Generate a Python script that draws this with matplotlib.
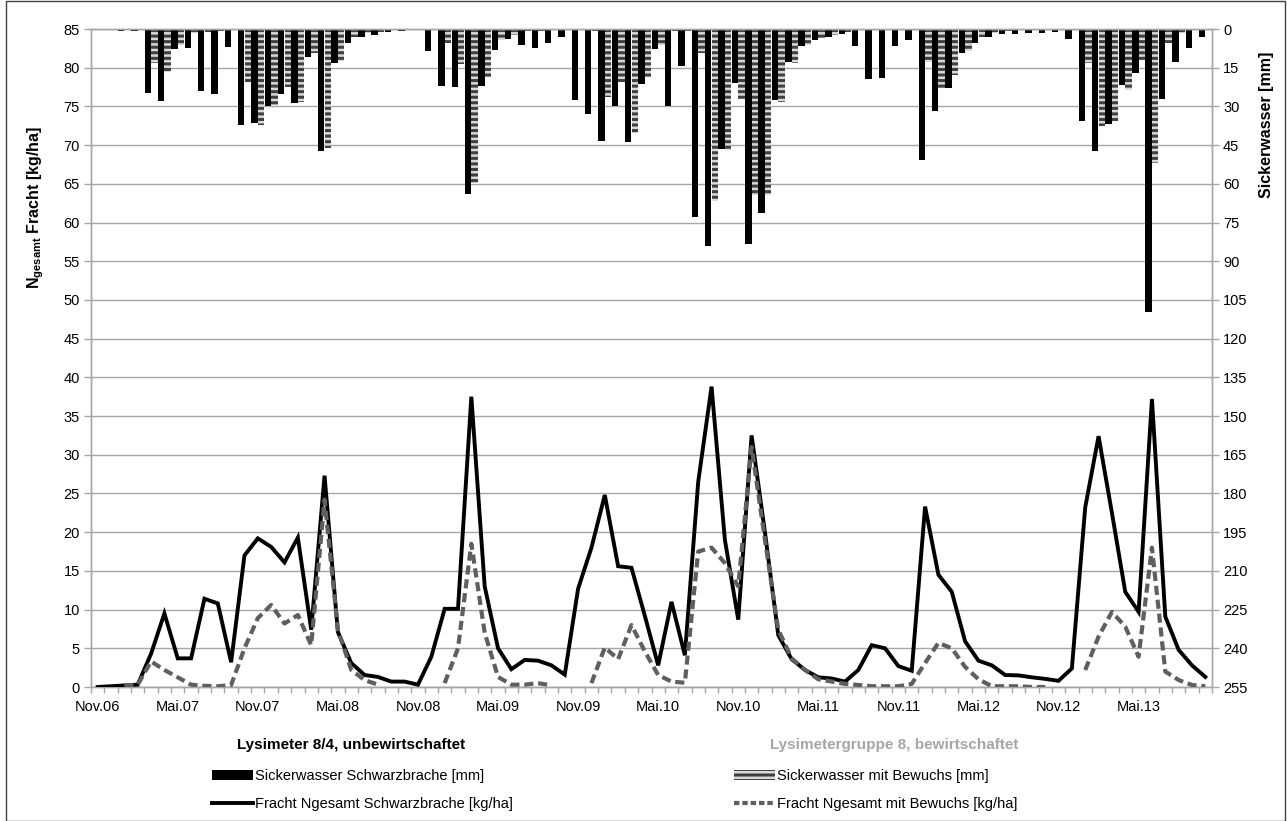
import numpy as np
import matplotlib
matplotlib.use('Agg')
import matplotlib.pyplot as plt
from matplotlib.patches import Patch, Rectangle
from matplotlib.lines import Line2D

plt.rcParams['font.family'] = ['Liberation Sans', 'DejaVu Sans']
plt.rcParams['mathtext.fontset'] = 'custom'
plt.rcParams['mathtext.rm'] = 'Liberation Sans'
plt.rcParams['mathtext.bf'] = 'Liberation Sans:bold'
plt.rcParams['hatch.linewidth'] = 2.2

nan = np.nan

# Sickerwasser [mm] (right axis, bars hanging from top)
sw_schwarzbrache = [0.2, 0.4, 0.6, 0.8, 24.9, 27.9, 7.9, 7.5, 24.0, 25.3,
                    7.1, 37.2, 36.6, 29.7, 25.2, 28.8, 10.7, 47.2, 13.0, 5.3,
                    3.0, 2.3, 1.0, 0.8, 0.4, 8.4, 22.1, 22.6, 64.0, 22.0,
                    8.1, 4.0, 6.2, 7.5, 5.3, 3.2, 27.5, 33.1, 43.4, 29.8,
                    43.9, 21.3, 7.9, 29.7, 14.2, 72.9, 84.0, 46.6, 20.8, 83.4,
                    71.4, 27.5, 12.7, 6.6, 4.3, 3.0, 2.0, 6.6, 19.3, 19.1,
                    6.6, 4.3, 50.8, 31.7, 23.0, 9.4, 5.6, 3.2, 2.0, 2.0,
                    1.7, 1.4, 1.2, 3.7, 35.5, 47.3, 36.8, 21.7, 16.9, 109.5,
                    27.3, 12.7, 7.5, 3.2]
sw_bewuchs = [0.0, 0.0, 0.0, 0.3, 13.0, 16.5, 6.2, 1.7, 1.0, 0.8,
              0.5, 20.4, 37.2, 29.5, 22.4, 28.2, 9.4, 46.3, 12.3, 3.0,
              1.7, 1.0, 0.5, 0.3, 0.2, 0.0, 5.6, 13.6, 59.8, 18.5,
              4.3, 2.3, 0.8, 0.8, 0.5, 0.3, 0.0, 0.8, 26.2, 20.4,
              40.4, 18.5, 6.2, 0.8, 0.8, 9.4, 66.7, 46.9, 27.3, 64.5,
              64.5, 28.3, 13.2, 6.2, 3.6, 2.3, 1.0, 0.3, 0.5, 0.3,
              0.3, 0.3, 12.7, 23.0, 17.8, 8.4, 3.2, 1.5, 0.7, 0.5,
              0.3, 0.3, 0.2, 0.2, 13.3, 37.6, 35.5, 23.6, 12.0, 52.1,
              5.6, 1.7, 0.5, 0.5]

# N gesamt Fracht [kg/ha] (left axis, lines)
fracht_schwarzbrache = [0.0, 0.1, 0.2, 0.3, 4.3, 9.5, 3.7, 3.7, 11.4, 10.8,
                        3.2, 17.0, 19.2, 18.1, 16.1, 19.3, 7.4, 27.3, 7.1, 3.1,
                        1.55, 1.3, 0.7, 0.7, 0.3, 3.9, 10.1, 10.1, 37.5, 13.0,
                        5.0, 2.3, 3.5, 3.4, 2.8, 1.6, 12.7, 18.0, 24.8, 15.6,
                        15.4, 9.2, 2.8, 11.0, 4.1, 26.5, 38.8, 19.0, 8.7, 32.5,
                        20.0, 6.7, 3.6, 2.2, 1.25, 1.1, 0.7, 2.2, 5.4, 5.0,
                        2.7, 2.1, 23.3, 14.5, 12.3, 5.9, 3.4, 2.8, 1.55, 1.5,
                        1.25, 1.05, 0.8, 2.4, 23.2, 32.4, 22.5, 12.3, 9.7, 37.2,
                        9.1, 4.8, 2.8, 1.3]
fracht_bewuchs = [nan, nan, 0.2, 0.3, 3.3, 2.2, 1.25, 0.3, 0.15, 0.1,
                  0.25, 5.0, 8.9, 10.6, 8.2, 9.3, 5.4, 24.2, 7.4, 2.2,
                  0.9, 0.3, nan, nan, nan, nan, 0.5, 5.0, 18.5, 7.0,
                  1.3, 0.3, 0.3, 0.5, 0.2, nan, nan, 0.5, 5.1, 3.6,
                  8.0, 4.6, 1.55, 0.7, 0.55, 17.5, 18.0, 16.0, 13.0, 31.0,
                  19.0, 7.4, 3.7, 2.2, 1.0, 0.7, 0.4, 0.26, 0.1, 0.1,
                  0.1, 0.4, 3.1, 5.7, 5.0, 2.6, 1.0, 0.1, 0.1, 0.1,
                  0.0, 0.0, nan, nan, 2.2, 6.5, 9.7, 7.8, 3.9, 18.0,
                  2.0, 0.9, 0.26, 0.1]

tick_labels = ['Nov.06', 'Mai.07', 'Nov.07', 'Mai.08', 'Nov.08', 'Mai.09', 'Nov.09',
               'Mai.10', 'Nov.10', 'Mai.11', 'Nov.11', 'Mai.12', 'Nov.12', 'Mai.13']
label_step = 6

legend_labels = ['Sickerwasser Schwarzbrache [mm]', 'Fracht Ngesamt Schwarzbrache [kg/ha]',
                 'Sickerwasser mit Bewuchs [mm]', 'Fracht Ngesamt mit Bewuchs [kg/ha]']
group_titles = ['Lysimeter 8/4, unbewirtschaftet', 'Lysimetergruppe 8, bewirtschaftet']

GRID = '#a6a6a6'
DARK_STRIPE = '#3f3f3f'
LIGHT_STRIPE = '#d9d9d9'
DASH_GREY = '#5f5f5f'

n = len(fracht_schwarzbrache)
x = np.arange(n)

W, H = 1287, 821
fig = plt.figure(figsize=(W / 100, H / 100), dpi=100)
L, R, T, Bt = 91, 1212, 29, 687
rect = [L / W, 1 - Bt / H, (R - L) / W, (Bt - T) / H]
ax = fig.add_axes(rect)
ax2 = ax.twinx()
ax.set_zorder(2)
ax2.set_zorder(1)
ax.patch.set_visible(False)

# bars on right axis
ax2.set_ylim(255, 0)
ax2.set_yticks(np.arange(0, 256, 15))
ax2.yaxis.grid(True, color=GRID, linewidth=1.0)
ax2.set_axisbelow(True)
ax2.bar(x - 0.245, sw_schwarzbrache, width=0.48, color='black', linewidth=0, zorder=2)
ax2.bar(x + 0.245, sw_bewuchs, width=0.48, color=LIGHT_STRIPE, edgecolor=DARK_STRIPE,
        hatch='---', linewidth=0, zorder=2)

# lines on left axis
ax.plot(x, fracht_schwarzbrache, color='black', linewidth=2.8, solid_joinstyle='miter', zorder=3)
ax.plot(x, fracht_bewuchs, color=DASH_GREY, linewidth=3.0, dashes=(2.2, 1.15),
        dash_capstyle='butt', zorder=4)
ax.set_ylim(0, 85)
ax.set_yticks(np.arange(0, 86, 5))
ax.set_xlim(-0.5, n - 0.5)
ax.set_xticks(x[::label_step][:len(tick_labels)])
ax.set_xticklabels(tick_labels)
ax.set_xticks(np.arange(-0.5, n, 1.0), minor=True)
ax.tick_params(axis='x', which='major', length=0, pad=9, labelsize=10.5)
ax.tick_params(axis='x', which='minor', length=4, width=1, color=GRID, direction='out')
ax.tick_params(axis='y', length=5, width=1, color=GRID, labelsize=10.5, pad=3)
ax2.tick_params(axis='y', length=5, width=1, color=GRID, labelsize=10.5, pad=3)
ax2.tick_params(axis='x', which='both', length=0)

for a in (ax, ax2):
    for s in a.spines.values():
        s.set_color(GRID)
        s.set_linewidth(1.0)

fig.text(36 / W, 1 - 208 / H, r'$\mathbf{N}_{\mathbf{gesamt}}$ Fracht [kg/ha]', rotation=90,
         ha='center', va='center', fontsize=11.5, fontweight='bold')
fig.text(1266 / W, 1 - 125 / H, 'Sickerwasser [mm]', rotation=90,
         ha='center', va='center', fontsize=11.5, fontweight='bold')

# legend area
fig.text(237 / W, 1 - 745 / H, group_titles[0], ha='left', va='center',
         fontsize=11, fontweight='bold', color='black')
fig.text(770 / W, 1 - 745 / H, group_titles[1], ha='left', va='center',
         fontsize=11, fontweight='bold', color='#a6a6a6')

h_sw_sb = Patch(facecolor='black', edgecolor='black', linewidth=0)
h_fr_sb = Line2D([], [], color='black', linewidth=2.8)
h_sw_mb = Patch(facecolor=LIGHT_STRIPE, edgecolor=DARK_STRIPE, hatch='---', linewidth=0)
h_fr_mb = Line2D([], [], color=DASH_GREY, linewidth=3.0, dashes=(1.3, 0.7))

leg1 = fig.legend([h_sw_sb, h_fr_sb], legend_labels[:2], loc='upper left',
                  bbox_to_anchor=(205 / W, 1 - 762 / H), frameon=False, fontsize=10.5,
                  handlelength=2.8, handletextpad=0.1, labelspacing=0.95, borderpad=0)
leg2 = fig.legend([h_sw_mb, h_fr_mb], legend_labels[2:], loc='upper left',
                  bbox_to_anchor=(727 / W, 1 - 762 / H), frameon=False, fontsize=10.5,
                  handlelength=2.8, handletextpad=0.1, labelspacing=0.95, borderpad=0)

# outer chart frame
fig.patches.append(Rectangle((6 / W, 0.5 / H), (W - 8) / W, (H - 2) / H,
                             transform=fig.transFigure, fill=False,
                             edgecolor='#404040', linewidth=1.0))

fig.savefig('out.png', dpi=100)
